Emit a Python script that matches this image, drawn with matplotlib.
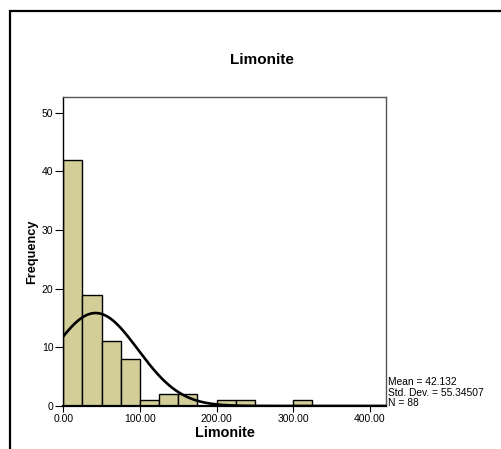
import numpy as np
import matplotlib.pyplot as plt
from matplotlib.patches import Rectangle

plt.rcParams['font.family'] = ['Liberation Sans', 'DejaVu Sans']

# histogram of Limonite, bins of width 25
bin_edges = [0, 25, 50, 75, 100, 125, 150, 175, 200, 225, 250, 275, 300, 325]
counts = [42, 19, 11, 8, 1, 2, 2, 0, 1, 1, 0, 0, 1]
mean = 42.132
std = 55.34507
n = 88

fig = plt.figure(figsize=(5.01, 4.49), dpi=100)
ax = fig.add_axes([0.1263, 0.0958, 0.6442, 0.6882])

lefts = np.array(bin_edges[:-1])
widths = np.diff(bin_edges)
ax.bar(lefts, counts, width=widths, align='edge', color='#d3ce98',
       edgecolor='black', linewidth=1.0, zorder=2)

# normal curve scaled to counts
xs = np.linspace(0, 421, 400)
binw = 25
ys = n * binw * np.exp(-0.5 * ((xs - mean) / std) ** 2) / (std * np.sqrt(2 * np.pi))
ax.plot(xs, ys, color='black', linewidth=1.9, zorder=3)

ax.set_xlim(0, 421)
ax.set_ylim(0, 52.7)
ax.set_xticks([0, 100, 200, 300, 400])
ax.set_xticklabels(['0.00', '100.00', '200.00', '300.00', '400.00'])
ax.set_yticks([0, 10, 20, 30, 40, 50])
ax.tick_params(axis='y', length=5.5, width=0.8, labelsize=7.5, pad=1.5, colors='black')
ax.tick_params(axis='x', length=4, width=0.8, labelsize=7.5, pad=2, colors='black')

for side in ['top', 'right']:
    ax.spines[side].set_color('#555555')
    ax.spines[side].set_linewidth(1.0)
ax.spines['left'].set_linewidth(1.0)
ax.spines['bottom'].set_linewidth(1.6)

ax.set_xlabel('Limonite', fontsize=10.4, fontweight='bold', labelpad=1)
ax.set_ylabel('Frequency', fontsize=9.2, fontweight='bold', labelpad=3)

fig.text(262 / 501, 1 - 60 / 449, 'Limonite', fontsize=11, fontweight='bold',
         ha='center', va='center')

stats = 'Mean = %.3f\nStd. Dev. = %.5f\nN = %d' % (mean, std, n)
fig.text(388 / 501, 1 - 408 / 449, stats, fontsize=7.4, ha='left', va='bottom',
         linespacing=1.05)

# outer frame
fig.patches.append(Rectangle((10 / 501, -0.1), 1.2, 1 - 11 / 449 + 0.1,
                             transform=fig.transFigure, fill=False,
                             edgecolor='black', linewidth=1.6))

fig.savefig('out.png', dpi=100)
